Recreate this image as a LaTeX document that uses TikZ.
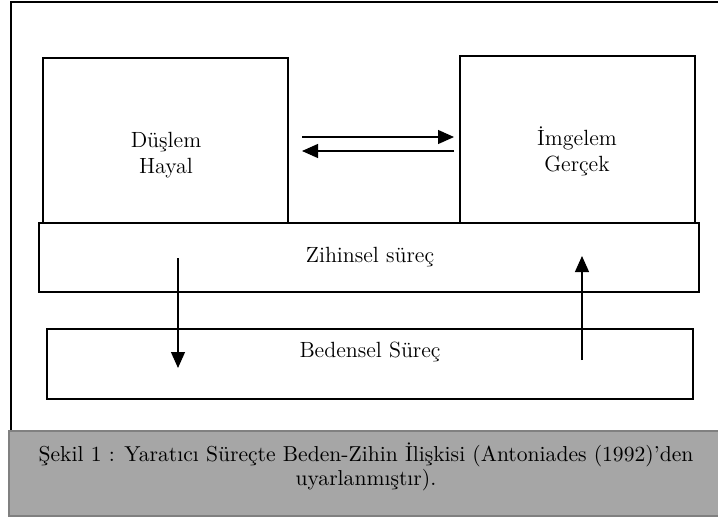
\documentclass[tikz,border=0pt]{standalone}
\usepackage{fontspec}
\usetikzlibrary{arrows.meta}
\newcommand{\boxline}{1pt}
\newcommand{\arrowline}{0.6pt}
\definecolor{captiongray}{HTML}{A6A6A6}
\definecolor{captionedge}{HTML}{808080}

\begin{document}
\begin{tikzpicture}[x=0.5pt,y=-0.5pt,
  kutu/.style={draw,line width=\boxline,inner sep=0pt},
  yazi/.style={align=center,font=\fontsize{11}{13}\selectfont},
  ok/.style={line width=\arrowline,-{Triangle[length=8pt,width=7pt]}}]

 \useasboundingbox (0,0) rectangle (718,520);
 \draw[line width=\boxline] (722,2) -- (11,2) -- (11,431);
 \fill[captiongray,draw=captionedge,line width=\boxline] (9,431) rectangle (724,516);

 \node[kutu,minimum width=245*0.5pt,minimum height=165*0.5pt] (dus) at (165.5,140.5) {};
 \node[kutu,minimum width=235*0.5pt,minimum height=167*0.5pt] (img) at (577.5,139.5) {};
 \node[kutu,minimum width=660*0.5pt,minimum height=69*0.5pt] (zih) at (369,257.5) {};
 \node[kutu,minimum width=646*0.5pt,minimum height=70*0.5pt] (bed) at (370,364) {};

   \node[yazi] (dusyazi) at (166,155) {Düşlem\\Hayal};
   \node[yazi] (imgyazi) at (577,151) {İmgelem\\Gerçek};
   \node[yazi] (zihyazi) at (370,257) {Zihinsel süreç};
   \node[yazi] (bedyazi) at (370,352) {Bedensel Süreç};
   \node[yazi,font=\fontsize{10.8}{11.8}\selectfont] (sekil) at (366,467)
     {Şekil 1 : Yaratıcı Süreçte Beden-Zihin İlişkisi (Antoniades (1992)’den\\uyarlanmıştır).};

 \coordinate (ust1) at (302,137); \coordinate (ust2) at (454,137);
 \coordinate (alt1) at (302,151); \coordinate (alt2) at (454,151);
 \coordinate (inis1) at (178,258); \coordinate (inis2) at (178,368);
 \coordinate (cikis1) at (582,360); \coordinate (cikis2) at (582,256);
   \draw[ok] (ust1) -- (ust2);
   \draw[ok] (alt2) -- (alt1);
   \draw[ok] (inis1) -- (inis2);
   \draw[ok] (cikis1) -- (cikis2);

 \end{tikzpicture}
\end{document}
